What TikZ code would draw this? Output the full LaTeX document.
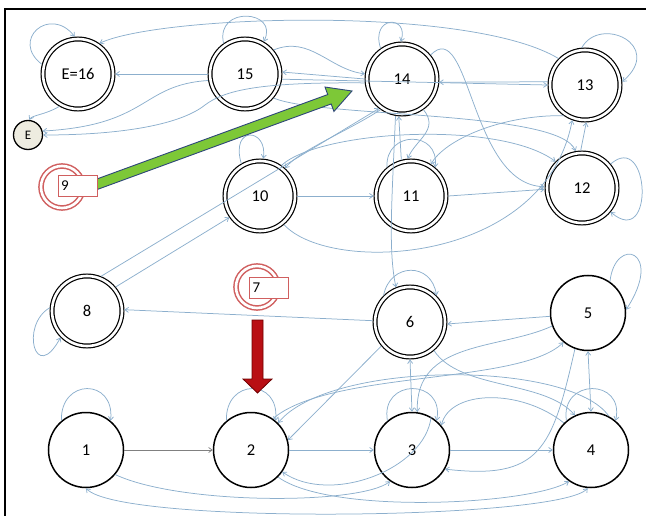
\documentclass[tikz,border=0pt]{standalone}
\usepackage{fontspec}
\setmainfont{Carlito}
\usetikzlibrary{arrows.meta,calc}
\definecolor{lb}{RGB}{140,175,205}
\definecolor{redc}{RGB}{208,95,95}
\definecolor{gfill}{RGB}{125,200,55}
\definecolor{gdraw}{RGB}{45,70,120}
\definecolor{rfill}{RGB}{185,15,20}
\definecolor{rdraw}{RGB}{110,0,0}
\definecolor{ebg}{RGB}{238,236,224}
\begin{document}
\begin{tikzpicture}[x=1pt,y=-1pt,
 conn/.style={draw=lb, line width=0.75pt, -{Straight Barb[length=3.5pt,width=5pt]}},
 both/.style={conn, {Straight Barb[length=3.5pt,width=5pt]}-{Straight Barb[length=3.5pt,width=5pt]}},
 grayconn/.style={conn, draw=gray},
 dnode/.style={circle, draw=black, line width=1.2pt, double=white, double distance=2.6pt, minimum size=70pt, inner sep=0pt, outer sep=2.4pt, font=\fontsize{16.5}{18}\selectfont},
 snode/.style={circle, draw=black, line width=1.5pt, minimum size=75pt, inner sep=0pt, font=\fontsize{16.5}{18}\selectfont},
 redring/.style={circle, draw=redc, line width=1.5pt, double=white, double distance=2.6pt, minimum size=42pt, inner sep=0pt},
 redbox/.style={rectangle, draw=redc, line width=1pt, fill=white, text width=33pt, inner xsep=3pt, minimum height=21pt, align=left, font=\fontsize{15}{17}\selectfont}]
\useasboundingbox (0,0) rectangle (646,516);
\draw[line width=1.2pt] (5,516) -- (5,9) -- (646,9);

% nodes
\node[dnode] (n16) at (78,74) {E=16};
\node[dnode] (n15) at (245,74) {15};
\node[dnode] (n14) at (402,79) {14};
\node[dnode] (n13) at (585,85) {13};
\node[dnode] (n12) at (582,188) {12};
\node[dnode] (n11) at (411,196) {11};
\node[dnode] (n10) at (260,196) {10};
\node[dnode] (n8) at (87,311) {8};
\node[dnode] (n6) at (410,322) {6};
\node[snode] (n5) at (588,313) {5};
\node[snode] (n1) at (86,450) {1};
\node[snode] (n2) at (251,450) {2};
\node[snode] (n3) at (412,450) {3};
\node[snode] (n4) at (591,450) {4};
\node[circle, draw, line width=1.3pt, fill=ebg, minimum size=29pt, inner sep=0pt, font=\fontsize{13}{15}\selectfont] (E) at (28,135) {E};

% connectors, top
\draw[conn] (n16.165) .. controls (10,40) and (50,5) .. (n16.95);
\draw[conn] (n15.125) .. controls (215,5) and (280,10) .. (n15.60);
\draw[conn] (n14.125) .. controls (370,15) and (410,15) .. (n14.92);
\draw[conn] (n13.95) .. controls (600,15) and (665,45) .. (n13.5);
\draw[conn] (n12.40) .. controls (650,130) and (655,250) .. (n12.-40);
\draw[conn] (n13.135) .. controls (470,5) and (160,15) .. (n16.55);
\draw[conn] (n15.180) -- (n16.0);
\draw[conn] (n14.180) -- (n15.3);
\draw[conn] (n15.-8) -- (n13.180);
\draw[conn] (n13.175) -- (n14.-5);
\draw[conn] (n15.40) .. controls (310,35) and (330,70) .. (n14.172);
\draw[conn] (n14.186) .. controls (260,82) and (225,90) .. (205,105) .. controls (180,125) and (120,135) .. (E.0);
\draw[conn] (n15.190) .. controls (140,85) and (150,125) .. (E.15);
\draw[conn] (n16.240) .. controls (45,115) and (32,115) .. (E.85);
\draw[conn] (n14.40) .. controls (470,15) and (470,185) .. (n12.178);
\draw[conn] (n14.-55) .. controls (440,130) and (415,140) .. (n11.95);
\draw[conn] (n11.105) -- (n14.-95);
\draw[conn] (n14.-100) .. controls (392,200) and (388,250) .. (n6.112);
\draw[conn] (n11.130) .. controls (385,130) and (440,130) .. (n11.50);
\draw[conn] (n13.235) .. controls (500,115) and (445,140) .. (n11.58);
\draw[conn] (n12.92) -- (n13.-88);
\draw[conn] (n15.-40) .. controls (320,118) and (560,110) .. (n12.100);
\draw[conn] (n10.55) .. controls (320,130) and (500,120) .. (n12.135);
\draw[conn] (n14.-125) .. controls (350,130) and (300,150) .. (n10.48);
\draw[conn] (n8.68) -- (n14.-128);
\draw[conn] (n8.40) -- (n10.-145);
\draw[conn] (n10.120) .. controls (230,125) and (268,128) .. (n10.85);
\draw[conn] (n10.0) -- (n11.180);
\draw[conn] (n11.0) -- (n12.182);
\draw[conn] (n10.-50) .. controls (330,275) and (545,265) .. (n13.-110);
% middle
\draw[conn] (n6.178) -- (n8.2);
\draw[conn] (n8.175) .. controls (20,325) and (35,385) .. (n8.225);
\draw[conn] (n5.185) -- (n6.-3);
\draw[conn] (n5.55) .. controls (615,235) and (665,250) .. (n5.5);
\draw[conn] (n6.135) .. controls (390,262) and (432,262) .. (n6.45);
\draw[both] (n3.90) -- (n6.-90);
\draw[both] (n4.90) -- (n5.-90);
\draw[conn] (n3.130) .. controls (380,378) and (445,378) .. (n3.50);
\draw[conn] (n4.130) .. controls (560,378) and (625,378) .. (n4.50);
\draw[conn] (n3.0) -- (n4.180);
\draw[conn] (n5.-110) .. controls (552,450) and (540,480) .. (n3.-30);
\draw[conn] (n5.200) .. controls (500,350) and (415,340) .. (n3.82);
\draw[conn] (n2.55) .. controls (330,370) and (520,385) .. (n5.230);
\draw[conn] (n6.-50) .. controls (460,390) and (545,380) .. (n4.115);
\draw[conn] (n4.135) .. controls (520,388) and (450,390) .. (n3.40);
\draw[conn] (n4.62) .. controls (570,360) and (330,360) .. (n2.45);
\draw[conn] (n6.220) -- (n2.15);
\draw[conn] (n2.0) -- (n3.180);
\draw[conn] (n2.130) .. controls (225,378) and (280,378) .. (n2.50);
\draw[conn] (n1.130) .. controls (60,378) and (115,378) .. (n1.50);
\draw[grayconn] (n1.0) -- (n2.180);
\draw[conn] (n1.-40) .. controls (180,505) and (360,505) .. (n3.-125);
\draw[both] (n4.-95) .. controls (560,520) and (120,525) .. (n1.-90);
\draw[conn] (n2.-45) .. controls (330,515) and (530,505) .. (n4.-125);
\draw[conn] (n3.60) .. controls (425,470) and (330,505) .. (n2.-35);

% green arrow
\coordinate (gT) at (95,185);
\coordinate (gP) at (352,91);
\coordinate (gH) at ($(gP)!24pt!(gT)$);
\filldraw[fill=gfill, draw=gdraw, line width=0.9pt, line join=miter]
 ($(gT)!5pt!90:(gP)$) -- ($(gH)!5pt!-90:(gT)$) -- ($(gH)!13pt!-90:(gT)$) -- (gP)
 -- ($(gH)!13pt!90:(gT)$) -- ($(gH)!5pt!90:(gT)$) -- ($(gT)!5pt!-90:(gP)$) -- cycle;

% red arrow
\filldraw[fill=rfill, draw=rdraw, line width=0.8pt]
 (252,320) -- (263,320) -- (263,379) -- (272,379) -- (257.5,393) -- (243,379) -- (252,379) -- cycle;

% start markers 9 and 7
\node[redring] (r9) at (62,187) {};
\node[redbox] (b9) at (77.5,186) {9};
\node[redring] (r7) at (257,287) {};
\node[redbox] (b7) at (269,288) {7};
\end{tikzpicture}
\end{document}
